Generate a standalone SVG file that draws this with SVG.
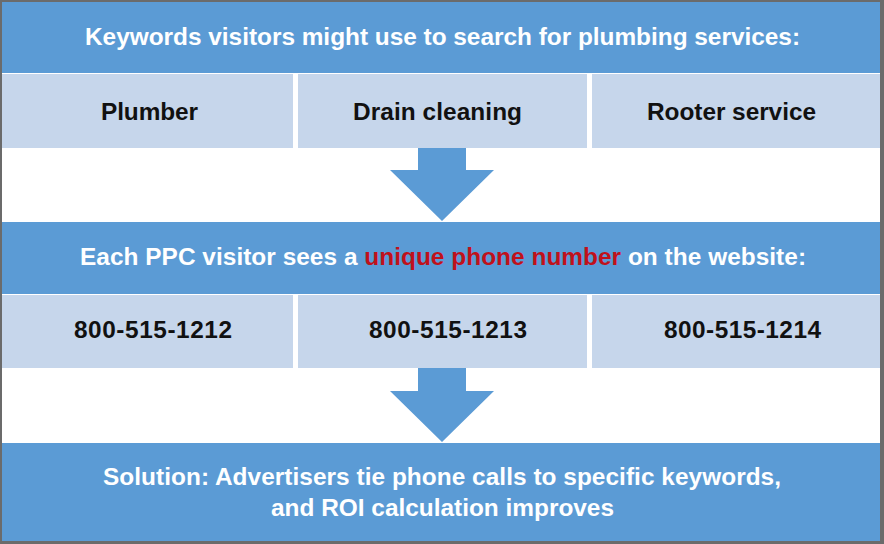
<svg xmlns="http://www.w3.org/2000/svg" width="884" height="544" viewBox="0 0 884 544">
<style>
.hdr{fill:#5b9bd5}
.cell{fill:#c6d6eb}
.arr{fill:#5b9bd5}
.ht{font-family:"Liberation Sans",Arial,sans-serif;font-weight:bold;font-size:24.4px;fill:#ffffff;text-anchor:middle}
.ct{font-family:"Liberation Sans",Arial,sans-serif;font-weight:bold;font-size:24.4px;fill:#111111;text-anchor:middle}
.red{fill:#c0111b}
</style>
<rect x="0" y="0" width="884" height="544" fill="#6b6b6b"/>
<rect x="2" y="2" width="878" height="539" fill="#ffffff"/>
<g id="header1">
<rect class="hdr" x="2" y="2" width="878" height="71"/>
<text class="ht" x="442.5" y="45" textLength="715">Keywords visitors might use to search for plumbing services:</text>
</g>
<g id="kw-plumber">
<rect class="cell" x="2" y="74" width="291" height="74"/>
<text class="ct" x="149.5" y="120" textLength="97">Plumber</text>
</g>
<g id="kw-drain">
<rect class="cell" x="298" y="74" width="289" height="74"/>
<text class="ct" x="437.5" y="120" textLength="169">Drain cleaning</text>
</g>
<g id="kw-rooter">
<rect class="cell" x="592" y="74" width="288" height="74"/>
<text class="ct" x="731.5" y="120" textLength="169">Rooter service</text>
</g>
<g id="header2">
<rect class="hdr" x="2" y="222" width="878" height="72"/>
<text class="ht" x="443" y="265" textLength="726">Each PPC visitor sees a <tspan class="red">unique phone number</tspan> on the website:</text>
</g>
<g id="ph-1212">
<rect class="cell" x="2" y="295" width="291" height="73"/>
<text class="ct" x="153" y="338" textLength="158">800-515-1212</text>
</g>
<g id="ph-1213">
<rect class="cell" x="298" y="295" width="289" height="73"/>
<text class="ct" x="448" y="338" textLength="158">800-515-1213</text>
</g>
<g id="ph-1214">
<rect class="cell" x="592" y="295" width="288" height="73"/>
<text class="ct" x="742.5" y="338" textLength="157">800-515-1214</text>
</g>
<g id="solution">
<rect class="hdr" x="2" y="443" width="878" height="98"/>
<text class="ht" x="442" y="485" textLength="678">Solution: Advertisers tie phone calls to specific keywords,</text>
<text class="ht" x="442.5" y="516" textLength="343">and ROI calculation improves</text>
</g>
<g id="connectors">
<polygon class="arr" points="418,148 466,148 466,170 494,170 442,221 390,170 418,170"/>
<polygon class="arr" points="418,368 466,368 466,391 494,391 442,442 390,391 418,391"/>
</g>
</svg>
